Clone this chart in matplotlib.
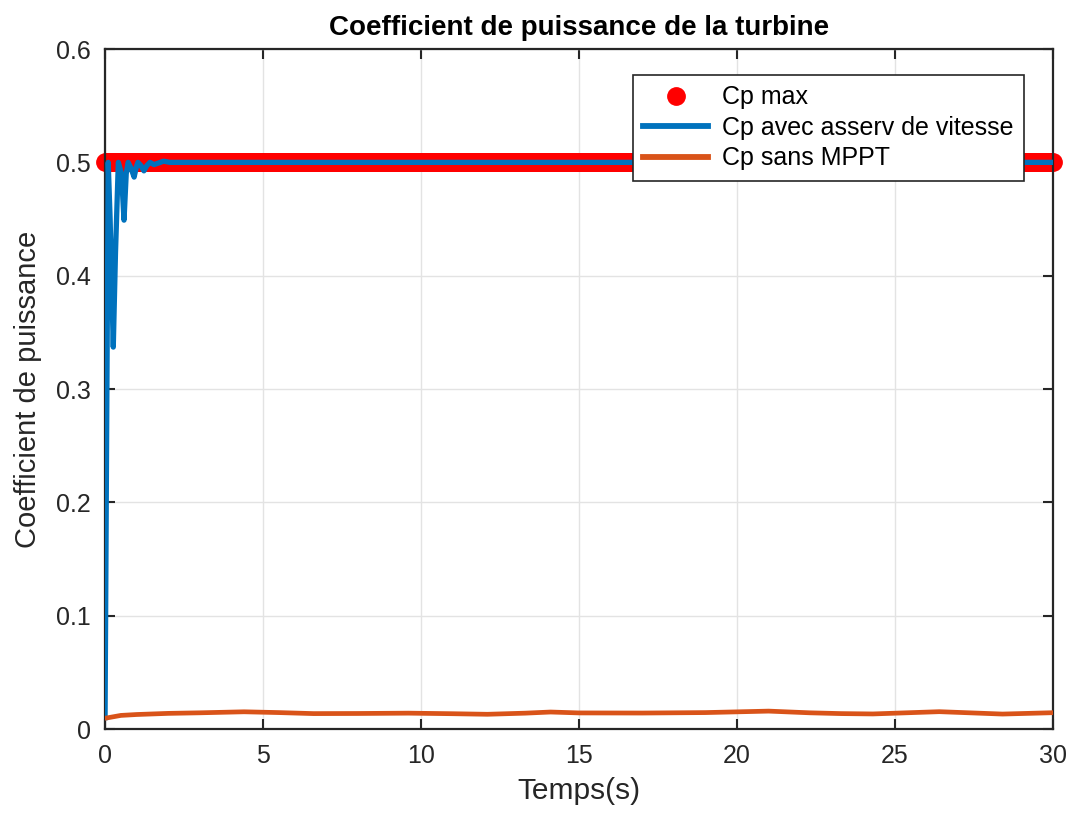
import numpy as np
import matplotlib
matplotlib.use('Agg')
import matplotlib.pyplot as plt

plt.rcParams['font.family'] = ['Liberation Sans', 'DejaVu Sans']

# Cp max (constant reference, sampled densely)
t_max = np.arange(0, 30.001, 0.05)
cp_max = np.full(t_max.shape, 0.5)

# Cp avec asservissement de vitesse
t_asserv = [0.0, 0.05, 0.1, 0.16, 0.26, 0.33, 0.42, 0.52, 0.6, 0.67, 0.73, 0.82,
            0.92, 0.99, 1.04, 1.14, 1.23, 1.32, 1.42, 1.55, 1.7, 1.85, 2.05, 2.5, 5, 10, 20, 30]
cp_asserv = [0.01, 0.26, 0.5, 0.45, 0.337, 0.42, 0.5, 0.49, 0.449, 0.49, 0.5, 0.495,
             0.487, 0.496, 0.5, 0.497, 0.4925, 0.497, 0.5, 0.498, 0.4995, 0.501, 0.5, 0.5,
             0.5, 0.5, 0.5, 0.5]

# Cp sans MPPT
t_sans = [0, 0.5, 1.0, 2.0, 3.0, 4.4, 5.5, 6.6, 8.0, 9.6, 11.0, 12.1, 13.3, 14.1,
          15.0, 17.0, 19.0, 21.0, 22.3, 23.3, 24.3, 26.4, 28.4, 30]
cp_sans = [0.0095, 0.0120, 0.0128, 0.0138, 0.0143, 0.0152, 0.0145, 0.0136, 0.0137, 0.0140,
           0.0135, 0.0130, 0.0140, 0.0150, 0.0142, 0.0141, 0.0145, 0.0158, 0.0143, 0.0136,
           0.0133, 0.0153, 0.0132, 0.0144]

fig = plt.figure(figsize=(10.72, 8.13), dpi=100)
ax = fig.add_axes([0.098, 0.1033, 0.8843, 0.8364])

ax.plot(t_max, cp_max, 'o', color='#FF0000', markersize=12.5, label='Cp max',
        zorder=2, clip_on=False)
ax.plot(t_asserv, cp_asserv, '-', color='#0072BD', linewidth=3.8,
        label='Cp avec asserv de vitesse', zorder=3)
ax.plot(t_sans, cp_sans, '-', color='#D95319', linewidth=3.4, label='Cp sans MPPT', zorder=3)

ax.set_xlim(0, 30)
ax.set_ylim(0, 0.6)
ax.set_xticks([0, 5, 10, 15, 20, 25, 30])
ax.set_yticks([0, 0.1, 0.2, 0.3, 0.4, 0.5, 0.6])
ax.set_yticklabels(['0', '0.1', '0.2', '0.3', '0.4', '0.5', '0.6'])
ax.grid(True, color='#e3e3e3', linewidth=1)
ax.set_axisbelow(True)
ax.tick_params(direction='in', length=7, width=1.5, labelsize=18, top=True, right=True,
               colors='#262626')
ax.tick_params(axis='x', pad=11)
ax.tick_params(axis='y', pad=10)
for s in ax.spines.values():
    s.set_linewidth(1.6)
    s.set_color('#262626')

ax.set_title('Coefficient de puissance de la turbine', fontsize=20, fontweight='bold', pad=10)
ax.set_xlabel('Temps(s)', fontsize=21.5, color='#262626', labelpad=6)
ax.set_ylabel('Coefficient de puissance', fontsize=21, color='#262626', labelpad=10)

leg = ax.legend(loc='upper right', bbox_to_anchor=(0.9694, 0.9618), fontsize=18,
                frameon=True, fancybox=False, edgecolor='#262626', framealpha=1,
                handlelength=2.6, borderpad=0.42, labelspacing=0.26, handletextpad=0.55,
                borderaxespad=0, numpoints=1)
leg.get_frame().set_linewidth(1.2)
for h in leg.get_lines():
    h.set_linewidth(4.2)

fig.savefig('out.png', dpi=100)
